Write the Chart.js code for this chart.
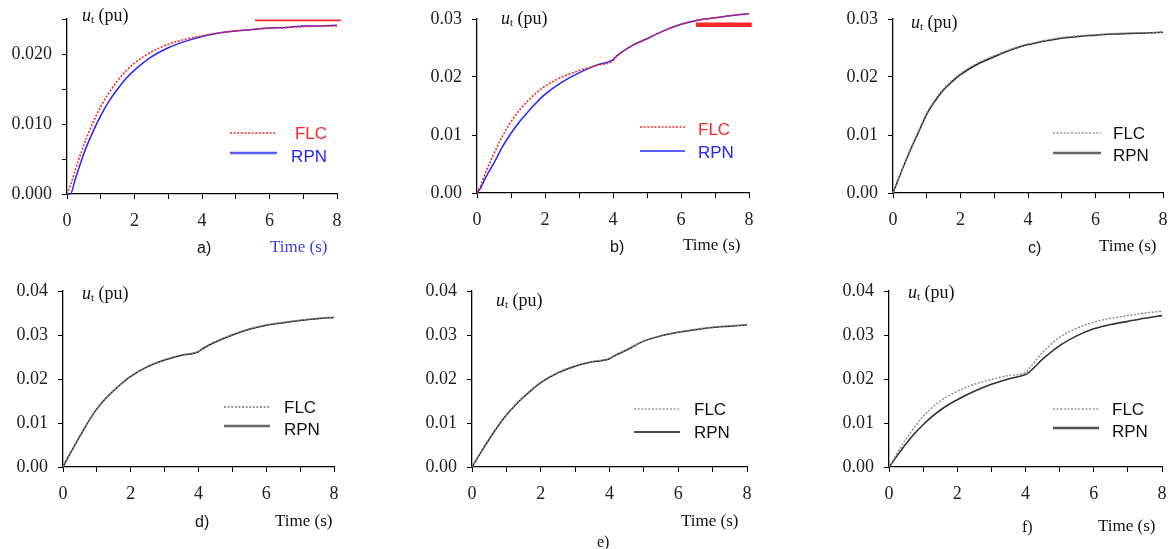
<!DOCTYPE html>
<html><head><meta charset="utf-8">
<script src="https://cdn.jsdelivr.net/npm/chart.js@4.4.0/dist/chart.umd.min.js"></script>
<style>
html,body{margin:0;padding:0;background:#fff;}
body{width:1171px;height:549px;position:relative;overflow:hidden;}
canvas{position:absolute;}
.t{position:absolute;white-space:nowrap;line-height:18px;color:#111;z-index:5;}
.ser{font-family:"Liberation Serif","DejaVu Serif",serif;}
.san{font-family:"Liberation Sans",Arial,sans-serif;}
.sub{font-size:11px;position:relative;top:2px;}
</style></head><body>
<div id="wrap"></div>
<script>
// ---------- data ----------
const time = [0, 0.1, 0.25, 0.5, 0.75, 1, 1.25, 1.5, 1.75, 2, 2.5, 3, 3.5, 4, 4.1, 4.5, 5, 5.5, 6, 6.5, 7, 7.5, 8];

const aFLC = [0, 0.0012, 0.0035, 0.0070, 0.0100, 0.0125, 0.0145, 0.0162, 0.0176, 0.0187, 0.0203, 0.0214, 0.0221, 0.0226, 0.0227, 0.0230, 0.0233, 0.0235, 0.0237, 0.0238, 0.0239, 0.0240, 0.0240];
const aRPN = [0, 0, 0.0022, 0.0058, 0.0087, 0.0112, 0.0133, 0.0150, 0.0165, 0.0177, 0.0196, 0.0209, 0.0218, 0.0225, 0.0226, 0.0230, 0.0233, 0.0235, 0.0237, 0.0238, 0.0240, 0.0240, 0.0241];

const bFLC = [0, 0.0012, 0.0035, 0.0068, 0.0098, 0.0123, 0.0143, 0.0159, 0.0173, 0.0184, 0.0200, 0.0211, 0.0220, 0.0228, 0.0235, 0.0252, 0.0266, 0.0280, 0.0291, 0.0298, 0.0302, 0.0306, 0.0309];
const bRPN = [0, 0.0008, 0.0026, 0.0052, 0.0080, 0.0103, 0.0123, 0.0140, 0.0156, 0.0170, 0.0191, 0.0207, 0.0220, 0.0230, 0.0236, 0.0252, 0.0266, 0.0280, 0.0291, 0.0298, 0.0302, 0.0306, 0.0309];

const cFLC = [0, 0.0016, 0.0038, 0.0074, 0.0106, 0.0138, 0.0161, 0.0180, 0.0194, 0.0206, 0.0224, 0.0237, 0.0248, 0.0257, 0.0258, 0.0263, 0.0268, 0.0271, 0.0273, 0.0275, 0.0276, 0.0276, 0.0277];
const cRPN = [0, 0.0015, 0.0037, 0.0072, 0.0104, 0.0136, 0.0159, 0.0178, 0.0192, 0.0204, 0.0222, 0.0235, 0.0247, 0.0256, 0.0257, 0.0262, 0.0267, 0.0270, 0.0272, 0.0274, 0.0275, 0.0276, 0.0277];

const dFLC = [0, 0.0016, 0.0037, 0.0071, 0.0104, 0.0133, 0.0156, 0.0175, 0.0192, 0.0207, 0.0229, 0.0244, 0.0255, 0.0263, 0.0269, 0.0285, 0.0301, 0.0314, 0.0323, 0.0329, 0.0334, 0.0338, 0.0341];
const dRPN = [0, 0.0015, 0.0036, 0.0070, 0.0103, 0.0132, 0.0155, 0.0174, 0.0191, 0.0206, 0.0228, 0.0243, 0.0254, 0.0262, 0.0268, 0.0284, 0.0300, 0.0313, 0.0322, 0.0328, 0.0333, 0.0337, 0.0340];

const eFLC = [0, 0.0014, 0.0033, 0.0064, 0.0093, 0.0119, 0.0141, 0.0160, 0.0177, 0.0193, 0.0215, 0.0230, 0.0240, 0.0247, 0.0252, 0.0267, 0.0287, 0.0299, 0.0307, 0.0313, 0.0318, 0.0321, 0.0323];
const eRPN = [0, 0.0013, 0.0032, 0.0063, 0.0092, 0.0118, 0.0140, 0.0159, 0.0176, 0.0192, 0.0214, 0.0229, 0.0239, 0.0246, 0.0251, 0.0266, 0.0286, 0.0298, 0.0306, 0.0312, 0.0317, 0.0320, 0.0323];

const fFLC = [0, 0.0013, 0.0033, 0.0064, 0.0091, 0.0115, 0.0134, 0.0150, 0.0162, 0.0172, 0.0188, 0.0199, 0.0208, 0.0215, 0.0223, 0.0260, 0.0295, 0.0315, 0.0329, 0.0338, 0.0344, 0.0350, 0.0354];
const fRPN = [0, 0.0010, 0.0027, 0.0053, 0.0076, 0.0096, 0.0114, 0.0129, 0.0142, 0.0153, 0.0172, 0.0188, 0.0200, 0.0210, 0.0215, 0.0245, 0.0276, 0.0298, 0.0314, 0.0324, 0.0331, 0.0338, 0.0344];

// red marks found in panels a) and b)
const markA_x = [5.57, 8.12], markA_y = [0.0248, 0.0248];
const markB_x = [6.44, 8.08], markB_y = [0.0290, 0.0290];

const seriesNames = ['FLC', 'RPN'];
const panelLetters = ['a)', 'b)', 'c)', 'd)', 'e)', 'f)'];

const xTickVals = [0, 1, 2, 3, 4, 5, 6, 7, 8];
const xTickLabels = ['0', '', '2', '', '4', '', '6', '', '8'];
const yTickValsA = [0, 0.005, 0.010, 0.015, 0.020, 0.025];
const yTickLabelsA = ['0.000', '', '0.010', '', '0.020', ''];
const yTickVals3 = [0, 0.01, 0.02, 0.03];
const yTickLabels3 = ['0.00', '0.01', '0.02', '0.03'];
const yTickVals4 = [0, 0.01, 0.02, 0.03, 0.04];
const yTickLabels4 = ['0.00', '0.01', '0.02', '0.03', '0.04'];

// ---------- layout / style ----------
const RED = '#ff2626', BLUE = '#2424ff';
const panels = [
  {box:[0,-30,390,305], area:[67,19,337,194], ymax:0.025, yv:yTickValsA, yl:yTickLabelsA,
   flc:aFLC, rpn:aRPN, flcColor:RED, rpnColor:BLUE, flcW:1.6, rpnW:1.5,
   mark:{x:markA_x, y:markA_y, w:1.8},
   leg:{lx1:230, lx2:277, y1:133, y2:153, tx:327, align:'right', ty1:134, ty2:157,
        c1:RED, c2:BLUE, lc1:RED, lc2:'#5a5aff', lw2:2.6}},
  {box:[390,-30,390,305], area:[477,19,749,193], ymax:0.03, yv:yTickVals3, yl:yTickLabels3,
   flc:bFLC, rpn:bRPN, flcColor:RED, rpnColor:BLUE, flcW:1.6, rpnW:1.5,
   mark:{x:markB_x, y:markB_y, w:4.5},
   leg:{lx1:640, lx2:685, y1:127, y2:151, tx:698, align:'left', ty1:130, ty2:153,
        c1:RED, c2:BLUE, lc1:RED, lc2:BLUE, lw2:1.6}},
  {box:[780,-30,430,305], area:[893,19,1163,193], ymax:0.03, yv:yTickVals3, yl:yTickLabels3,
   flc:cFLC, rpn:cRPN, flcColor:'#8a8a8a', rpnColor:'#222', flcW:1.4, rpnW:1.5,
   leg:{lx1:1053, lx2:1101, y1:133, y2:153, tx:1113, align:'left', ty1:134, ty2:156,
        c1:'#111', c2:'#111', lc1:'#999', lc2:'#666', lw2:2.4}},
  {box:[0,245,390,304], area:[63,291,334,467], ymax:0.04, yv:yTickVals4, yl:yTickLabels4,
   flc:dFLC, rpn:dRPN, flcColor:'#8a8a8a', rpnColor:'#222', flcW:1.4, rpnW:1.5,
   leg:{lx1:224, lx2:270, y1:407, y2:426, tx:284, align:'left', ty1:408, ty2:430,
        c1:'#111', c2:'#111', lc1:'#777', lc2:'#666', lw2:2.4}},
  {box:[390,245,390,304], area:[472,291,747,467], ymax:0.04, yv:yTickVals4, yl:yTickLabels4,
   flc:eFLC, rpn:eRPN, flcColor:'#8a8a8a', rpnColor:'#222', flcW:1.4, rpnW:1.5,
   leg:{lx1:634, lx2:680, y1:409, y2:432, tx:694, align:'left', ty1:410, ty2:433,
        c1:'#111', c2:'#111', lc1:'#999', lc2:'#111', lw2:1.3}},
  {box:[780,245,430,304], area:[889,291,1162,467], ymax:0.04, yv:yTickVals4, yl:yTickLabels4,
   flc:fFLC, rpn:fRPN, flcColor:'#8a8a8a', rpnColor:'#333', flcW:1.4, rpnW:1.6,
   leg:{lx1:1053, lx2:1099, y1:409, y2:428, tx:1112, align:'left', ty1:410, ty2:432,
        c1:'#111', c2:'#111', lc1:'#999', lc2:'#555', lw2:2.4}}
];

const legendPlugin = {
  id: 'panelLegend',
  afterDatasetsDraw(chart, args, o) {
    if (!o || !o.leg) return;
    const L = o.leg, ox = o.ox, oy = o.oy, ctx = chart.ctx;
    const names = [chart.data.datasets[0].label, chart.data.datasets[1].label];
    ctx.save();
    ctx.beginPath(); ctx.setLineDash([2, 1.6]); ctx.strokeStyle = L.lc1; ctx.lineWidth = 1.6;
    ctx.moveTo(L.lx1 - ox, L.y1 - oy); ctx.lineTo(L.lx2 - ox, L.y1 - oy); ctx.stroke();
    ctx.beginPath(); ctx.setLineDash([]); ctx.strokeStyle = L.lc2; ctx.lineWidth = L.lw2;
    ctx.moveTo(L.lx1 - ox, L.y2 - oy); ctx.lineTo(L.lx2 - ox, L.y2 - oy); ctx.stroke();
    ctx.font = '17px "Liberation Sans", Arial, sans-serif';
    ctx.textAlign = L.align; ctx.textBaseline = 'middle';
    ctx.fillStyle = L.c1; ctx.fillText(names[0], L.tx - ox, L.ty1 - oy);
    ctx.fillStyle = L.c2; ctx.fillText(names[1], L.tx - ox, L.ty2 - oy);
    ctx.restore();
  }
};

const YW = 55, XH = 40;
const wrap = document.getElementById('wrap');
panels.forEach((p, k) => {
  const [cx, cy, cw, ch] = p.box;
  const [L, T, R, B] = p.area;
  const cv = document.createElement('canvas');
  cv.width = cw; cv.height = ch;
  cv.style.left = cx + 'px'; cv.style.top = cy + 'px';
  cv.style.width = cw + 'px'; cv.style.height = ch + 'px';
  wrap.appendChild(cv);
  const pts = arr => time.map((t, i) => ({x: t, y: arr[i]}));
  const datasets = [
    {label: seriesNames[0], data: pts(p.flc), borderColor: p.flcColor, borderWidth: p.flcW,
     borderDash: [2, 1.6], pointRadius: 0, cubicInterpolationMode: 'monotone', fill: false, clip: false},
    {label: seriesNames[1], data: pts(p.rpn), borderColor: p.rpnColor, borderWidth: p.rpnW,
     pointRadius: 0, cubicInterpolationMode: 'monotone', fill: false, clip: false}
  ];
  if (p.mark) {
    datasets.push({label: 'mark', data: p.mark.x.map((x, i) => ({x, y: p.mark.y[i]})),
      borderColor: RED, borderWidth: p.mark.w, pointRadius: 0, clip: false, fill: false});
  }
  const axisCommon = {
    grid: {display: true, drawOnChartArea: false, drawTicks: true, tickLength: 5, color: '#000', lineWidth: 1},
    border: {display: true, color: '#000', width: 1.3}
  };
  new Chart(cv, {
    type: 'line',
    data: {datasets},
    plugins: [legendPlugin],
    options: {
      responsive: false, animation: false, devicePixelRatio: 1,
      layout: {padding: {left: L - cx - YW, right: cx + cw - R, top: T - cy, bottom: cy + ch - B - XH}},
      plugins: {legend: {display: false}, tooltip: {enabled: false},
        panelLegend: {leg: p.leg, ox: cx, oy: cy}},
      scales: {
        x: Object.assign({}, axisCommon, {
          type: 'linear', min: 0, max: 8,
          afterBuildTicks: s => { s.ticks = xTickVals.map(v => ({value: v})); },
          afterFit: s => { s.height = XH; },
          ticks: {autoSkip: false, maxRotation: 0, padding: 11, color: '#222',
            font: {family: '"Liberation Serif", serif', size: 18},
            callback: (v, i) => xTickLabels[i]}
        }),
        y: Object.assign({}, axisCommon, {
          type: 'linear', min: 0, max: p.ymax,
          afterBuildTicks: s => { s.ticks = p.yv.map(v => ({value: v})); },
          afterFit: s => { s.width = YW; },
          ticks: {autoSkip: false, padding: 10, color: '#222',
            font: {family: '"Liberation Serif", serif', size: 18},
            callback: (v, i) => p.yl[i]}
        })
      }
    }
  });
});

// ---------- text annotations ----------
const notes = [
  ['<i>u</i><span class="sub">t</span> (pu)', 82, 15, 'ser', 18, '#111'],
  [panelLetters[0], 197, 248, 'san', 16, '#111'],
  ['Time (s)', 270, 247, 'ser', 17, '#3a3aee'],
  ['<i>u</i><span class="sub">t</span> (pu)', 501, 18, 'ser', 18, '#111'],
  [panelLetters[1], 610, 247, 'san', 16, '#111'],
  ['Time (s)', 683, 245, 'ser', 17, '#111'],
  ['<i>u</i><span class="sub">t</span> (pu)', 911, 22, 'ser', 18, '#111'],
  [panelLetters[2], 1028, 248, 'san', 16, '#111'],
  ['Time (s)', 1099, 246, 'ser', 17, '#111'],
  ['<i>u</i><span class="sub">t</span> (pu)', 82, 293, 'ser', 18, '#111'],
  [panelLetters[3], 195, 522, 'san', 16, '#111'],
  ['Time (s)', 275, 521, 'ser', 17, '#111'],
  ['<i>u</i><span class="sub">t</span> (pu)', 496, 300, 'ser', 18, '#111'],
  ['Time (s)', 681, 521, 'ser', 17, '#111'],
  [panelLetters[4], 597, 542, 'ser', 16, '#111'],
  ['<i>u</i><span class="sub">t</span> (pu)', 908, 292, 'ser', 18, '#111'],
  [panelLetters[5], 1022, 527, 'ser', 16, '#111'],
  ['Time (s)', 1098, 526, 'ser', 17, '#111']
];
notes.forEach(n => {
  const d = document.createElement('div');
  d.className = 't ' + n[3];
  d.innerHTML = n[0];
  d.style.left = n[1] + 'px';
  d.style.top = (n[2] - 9) + 'px';
  d.style.fontSize = n[4] + 'px';
  d.style.color = n[5];
  document.body.appendChild(d);
});
</script>
</body></html>
